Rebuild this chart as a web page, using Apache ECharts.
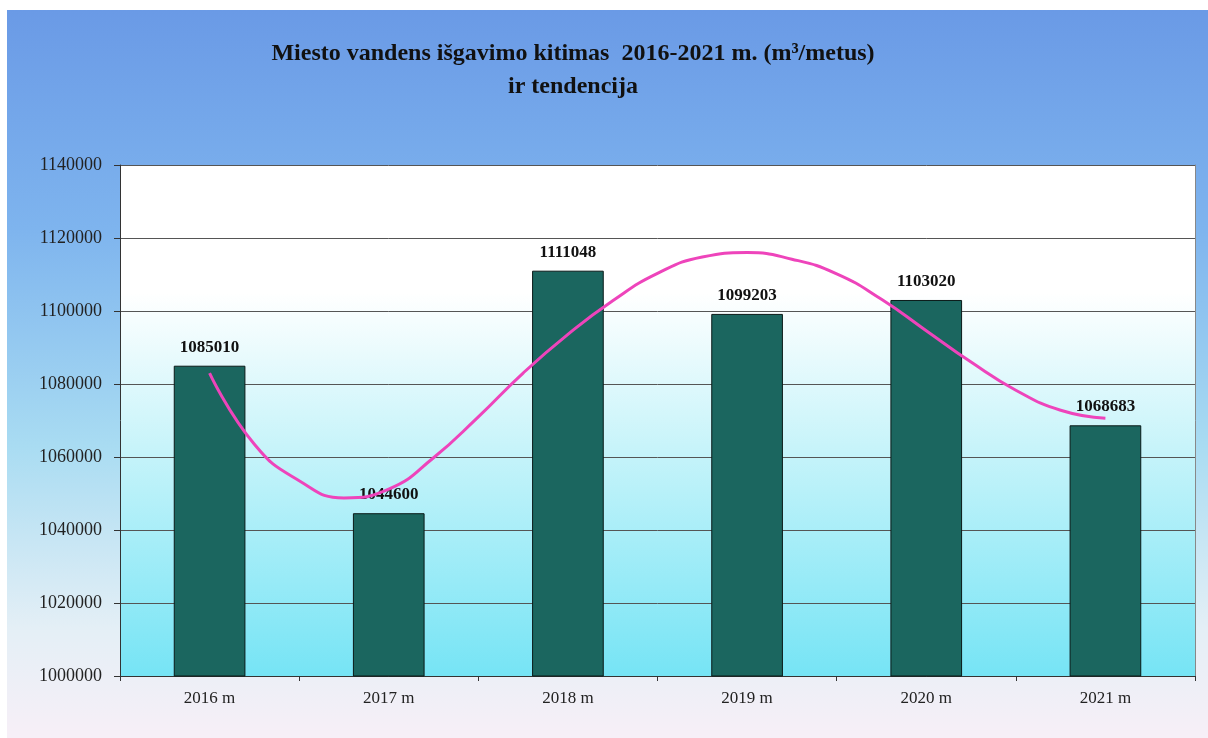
<!DOCTYPE html>
<html>
<head>
<meta charset="utf-8">
<script src="https://cdn.jsdelivr.net/npm/echarts@6/dist/echarts.min.js"></script>
<style>
html,body{margin:0;padding:0;background:#ffffff;width:1208px;height:738px;overflow:hidden;}
#chart{position:absolute;left:7px;top:10px;width:1201px;height:728px;}
</style>
</head>
<body>
<div id="chart"></div>
<script>
const categories = ['2016 m', '2017 m', '2018 m', '2019 m', '2020 m', '2021 m'];
const values = [1085010, 1044600, 1111048, 1099203, 1103020, 1068683];
const yTicks = [1000000, 1020000, 1040000, 1060000, 1080000, 1100000, 1120000, 1140000];
// trend line: [category position, value]
const trendPoints = [
  [0.0, 1083000], [0.25, 1063500], [0.5, 1053500], [0.75, 1048800], [1.0, 1051200],
  [1.25, 1059800], [1.5, 1071000], [1.75, 1083000], [2.0, 1093600], [2.25, 1102800],
  [2.5, 1110300], [2.75, 1114800], [3.0, 1116000], [3.25, 1114200], [3.5, 1110200],
  [3.75, 1103200], [4.0, 1094600], [4.25, 1086000], [4.5, 1078300], [4.75, 1072800],
  [5.0, 1070600]
];
const titleText = 'Miesto vandens išgavimo kitimas  2016-2021 m. (m³/metus)\nir tendencija';

const chart = echarts.init(document.getElementById('chart'), null, {renderer: 'canvas'});
const serif = '"Liberation Serif", "DejaVu Serif", serif';
const option = {
  animation: false,
  backgroundColor: new echarts.graphic.LinearGradient(0, 0, 0, 1, [
    {offset: 0, color: '#6a9ae6'},
    {offset: 0.3, color: '#7eb4ee'},
    {offset: 0.6, color: '#a9dcf2'},
    {offset: 0.85, color: '#e4eff6'},
    {offset: 1, color: '#f7eff7'}
  ]),
  title: {
    text: titleText,
    left: 561, top: 22, textAlign: 'center',
    textStyle: {fontFamily: serif, fontWeight: 'bold', fontSize: 24, color: '#111', lineHeight: 33}
  },
  grid: {
    left: 113, top: 155, right: 13, bottom: 62, show: true, borderWidth: 0,
    backgroundColor: new echarts.graphic.LinearGradient(0, 0, 0, 1, [
      {offset: 0, color: '#ffffff'},
      {offset: 0.25, color: '#ffffff'},
      {offset: 0.55, color: '#c8f4fa'},
      {offset: 1, color: '#76e4f5'}
    ])
  },
  xAxis: [{
    type: 'category', data: categories,
    axisLine: {lineStyle: {color: '#333', width: 1}},
    axisTick: {show: true, length: 5, lineStyle: {color: '#333'}},
    axisLabel: {fontFamily: serif, fontSize: 17, color: '#222', margin: 14}
  }, {
    type: 'value', min: -0.5, max: 5.5, show: false
  }],
  yAxis: [{
    type: 'value', min: yTicks[0], max: yTicks[yTicks.length - 1], interval: 20000,
    axisLine: {show: true, onZero: false, lineStyle: {color: '#333', width: 1}},
    axisTick: {show: true, length: 6, lineStyle: {color: '#333'}},
    axisLabel: {fontFamily: serif, fontSize: 18, color: '#222', margin: 18, formatter: v => String(v)},
    splitLine: {lineStyle: {color: '#555', width: 1}}
  }, {
    type: 'value', min: yTicks[0], max: yTicks[yTicks.length - 1], position: 'right',
    axisLine: {show: true, onZero: false, lineStyle: {color: '#888', width: 1}},
    axisTick: {show: false}, axisLabel: {show: false}, splitLine: {show: false}
  }],
  series: [{
    type: 'bar', data: values, barWidth: '40%',
    itemStyle: {color: '#1b665f', borderColor: '#0a1a18', borderWidth: 1},
    label: {show: true, position: 'top', distance: 10, fontFamily: serif, fontWeight: 'bold', fontSize: 17, color: '#111'}
  }, {
    type: 'line', xAxisIndex: 1, data: trendPoints, smooth: true, showSymbol: false,
    lineStyle: {color: '#ee44bb', width: 3}, z: 5
  }]
};
chart.setOption(option);
</script>
</body>
</html>
